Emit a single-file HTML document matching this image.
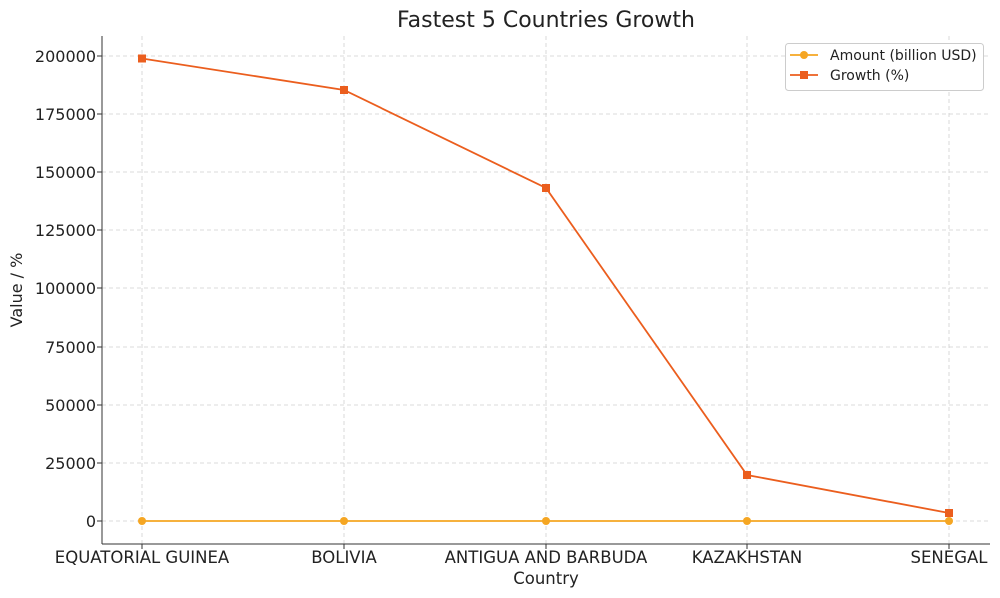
<!DOCTYPE html>
<html><head><style>body{margin:0;background:#fff}svg{display:block}text{font-family:"DejaVu Sans","Liberation Sans",sans-serif;fill:#222}</style></head>
<body>
<svg width="1000" height="598" xmlns="http://www.w3.org/2000/svg">
<text x="546" y="27" font-size="22" text-anchor="middle">Fastest 5 Countries Growth</text>
<g stroke="#d0d0d0" stroke-dasharray="4,3" stroke-width="0.8">
<line x1="142" y1="36" x2="142" y2="544"/><line x1="344" y1="36" x2="344" y2="544"/><line x1="546" y1="36" x2="546" y2="544"/><line x1="747" y1="36" x2="747" y2="544"/><line x1="949" y1="36" x2="949" y2="544"/>
<line x1="102" y1="521" x2="990" y2="521"/><line x1="102" y1="463" x2="990" y2="463"/><line x1="102" y1="405" x2="990" y2="405"/><line x1="102" y1="347" x2="990" y2="347"/><line x1="102" y1="288" x2="990" y2="288"/><line x1="102" y1="230" x2="990" y2="230"/><line x1="102" y1="172" x2="990" y2="172"/><line x1="102" y1="114" x2="990" y2="114"/><line x1="102" y1="56" x2="990" y2="56"/>
</g>
<g stroke="#333" stroke-width="1"><line x1="102" y1="36" x2="102" y2="544"/><line x1="102" y1="544" x2="990" y2="544"/>
<line x1="97" y1="521" x2="102" y2="521"/><line x1="97" y1="463" x2="102" y2="463"/><line x1="97" y1="405" x2="102" y2="405"/><line x1="97" y1="347" x2="102" y2="347"/><line x1="97" y1="288" x2="102" y2="288"/><line x1="97" y1="230" x2="102" y2="230"/><line x1="97" y1="172" x2="102" y2="172"/><line x1="97" y1="114" x2="102" y2="114"/><line x1="97" y1="56" x2="102" y2="56"/>
<line x1="142" y1="544" x2="142" y2="549"/><line x1="344" y1="544" x2="344" y2="549"/><line x1="546" y1="544" x2="546" y2="549"/><line x1="747" y1="544" x2="747" y2="549"/><line x1="949" y1="544" x2="949" y2="549"/></g>
<g font-size="16" text-anchor="end">
<text x="96" y="527">0</text><text x="96" y="469">25000</text><text x="96" y="411">50000</text><text x="96" y="353">75000</text><text x="96" y="294">100000</text><text x="96" y="236">125000</text><text x="96" y="178">150000</text><text x="96" y="120">175000</text><text x="96" y="62">200000</text></g>
<g font-size="16.5" text-anchor="middle">
<text x="142" y="563">EQUATORIAL GUINEA</text><text x="344" y="563">BOLIVIA</text><text x="546" y="563">ANTIGUA AND BARBUDA</text><text x="747" y="563">KAZAKHSTAN</text><text x="949" y="563">SENEGAL</text>
<text x="546" y="584">Country</text></g>
<text x="0" y="0" font-size="16" text-anchor="middle" transform="translate(22,290) rotate(-90)">Value / %</text>
<polyline points="142,521 344,521 546,521 747,521 949,521" fill="none" stroke="#f5a623" stroke-width="1.8"/>
<g fill="#f5a623"><circle cx="142" cy="521" r="4"/><circle cx="344" cy="521" r="4"/><circle cx="546" cy="521" r="4"/><circle cx="747" cy="521" r="4"/><circle cx="949" cy="521" r="4"/></g>
<polyline points="142,58.5 344,90 546,188 747,475 949,513" fill="none" stroke="#eb5e1e" stroke-width="1.8"/>
<g fill="#eb5e1e"><rect x="138" y="54.5" width="8" height="8"/><rect x="340" y="86" width="8" height="8"/><rect x="542" y="184" width="8" height="8"/><rect x="743" y="471" width="8" height="8"/><rect x="945" y="509" width="8" height="8"/></g>
<rect x="785.5" y="43.5" width="198" height="47" rx="3" fill="#fff" stroke="#ccc"/>
<line x1="790" y1="55" x2="818" y2="55" stroke="#f5a623" stroke-width="1.8"/><circle cx="804" cy="55" r="4" fill="#f5a623"/>
<line x1="790" y1="75" x2="818" y2="75" stroke="#eb5e1e" stroke-width="1.8"/><rect x="800" y="71" width="8" height="8" fill="#eb5e1e"/>
<text x="830" y="60" font-size="14">Amount (billion USD)</text>
<text x="830" y="80" font-size="14">Growth (%)</text>
</svg>
</body></html>
